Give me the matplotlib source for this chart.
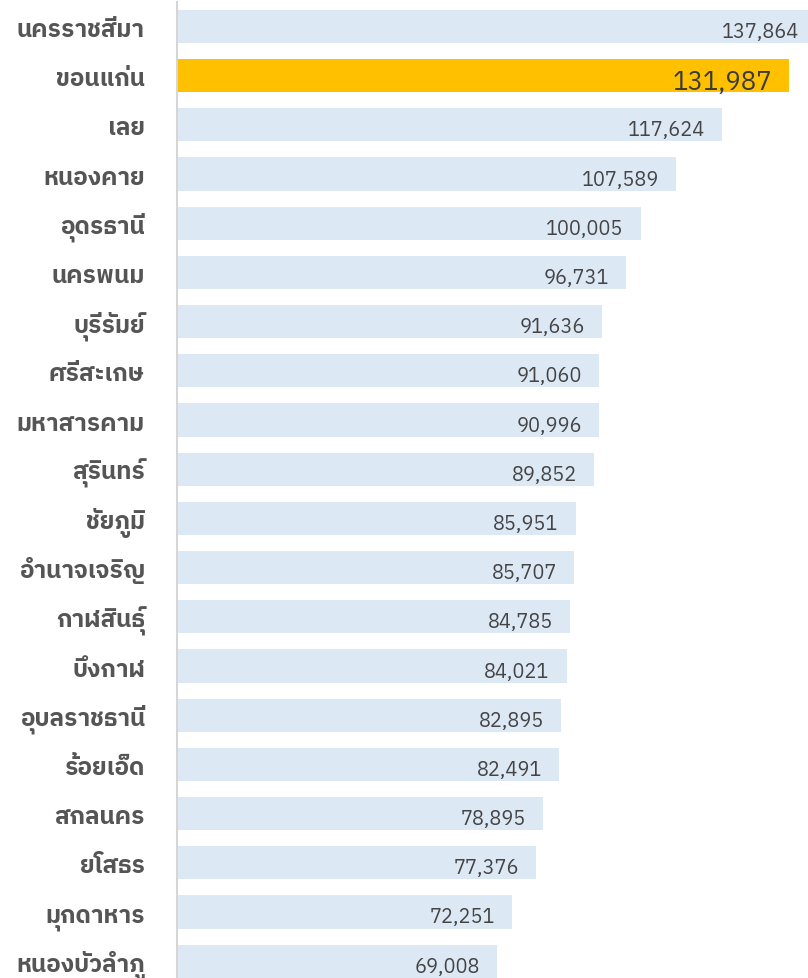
import matplotlib
matplotlib.use("Agg")
import matplotlib.pyplot as plt

# Thai provinces, ordered top to bottom as in the chart
provinces = [
    "นครราชสีมา", "ขอนแก่น", "เลย", "หนองคาย", "อุดรธานี",
    "นครพนม", "บุรีรัมย์", "ศรีสะเกษ", "มหาสารคาม", "สุรินทร์",
    "ชัยภูมิ", "อำนาจเจริญ", "กาฬสินธุ์", "บึงกาฬ", "อุบลราชธานี",
    "ร้อยเอ็ด", "สกลนคร", "ยโสธร", "มุกดาหาร", "หนองบัวลำภู",
]
values = [
    137864, 131987, 117624, 107589, 100005,
    96731, 91636, 91060, 90996, 89852,
    85951, 85707, 84785, 84021, 82895,
    82491, 78895, 77376, 72251, 69008,
]
highlight = "ขอนแก่น"

plt.rcParams["font.family"] = ["IBM Plex Sans Thai", "Noto Sans Thai", "DejaVu Sans"]

base_color = "#dde8f5"
hl_color = "#ffc000"
label_color = "#555555"
value_color = "#444444"

fig = plt.figure(figsize=(8.08, 9.79), dpi=100)
ax = fig.add_axes([177 / 808, 0, 1 - 177 / 808, 1])

rows = list(range(len(provinces)))
colors = [hl_color if p == highlight else base_color for p in provinces]
ax.barh(rows, values, height=0.675, color=colors, zorder=2)

ax.set_xlim(0, 136085)
ax.set_ylim(19.342, -0.559)

for r, (p, v) in enumerate(zip(provinces, values)):
    big = p == highlight
    # value inside the bar, near its end
    ax.annotate(f"{v:,}", xy=(v, r), xytext=(-17, -13 if big else -10.5),
                textcoords="offset pixels", ha="right", va="baseline",
                fontsize=18.5 if big else 14.4,
                color="#3a3a3a" if big else value_color,
                annotation_clip=False, zorder=3)
    # province name left of the axis line
    ax.annotate(p, xy=(0, r), xytext=(-32, -9.5), textcoords="offset pixels",
                ha="right", va="baseline", fontsize=17.5, fontweight="bold",
                color=label_color, annotation_clip=False)

ax.set_xticks([])
ax.set_yticks([])

for s in ["top", "right", "bottom"]:
    ax.spines[s].set_visible(False)
ax.spines["left"].set_color("#d6d6d6")
ax.spines["left"].set_linewidth(1.5)
ax.spines["left"].set_bounds(19.342, -0.5)

fig.savefig("out.png")
